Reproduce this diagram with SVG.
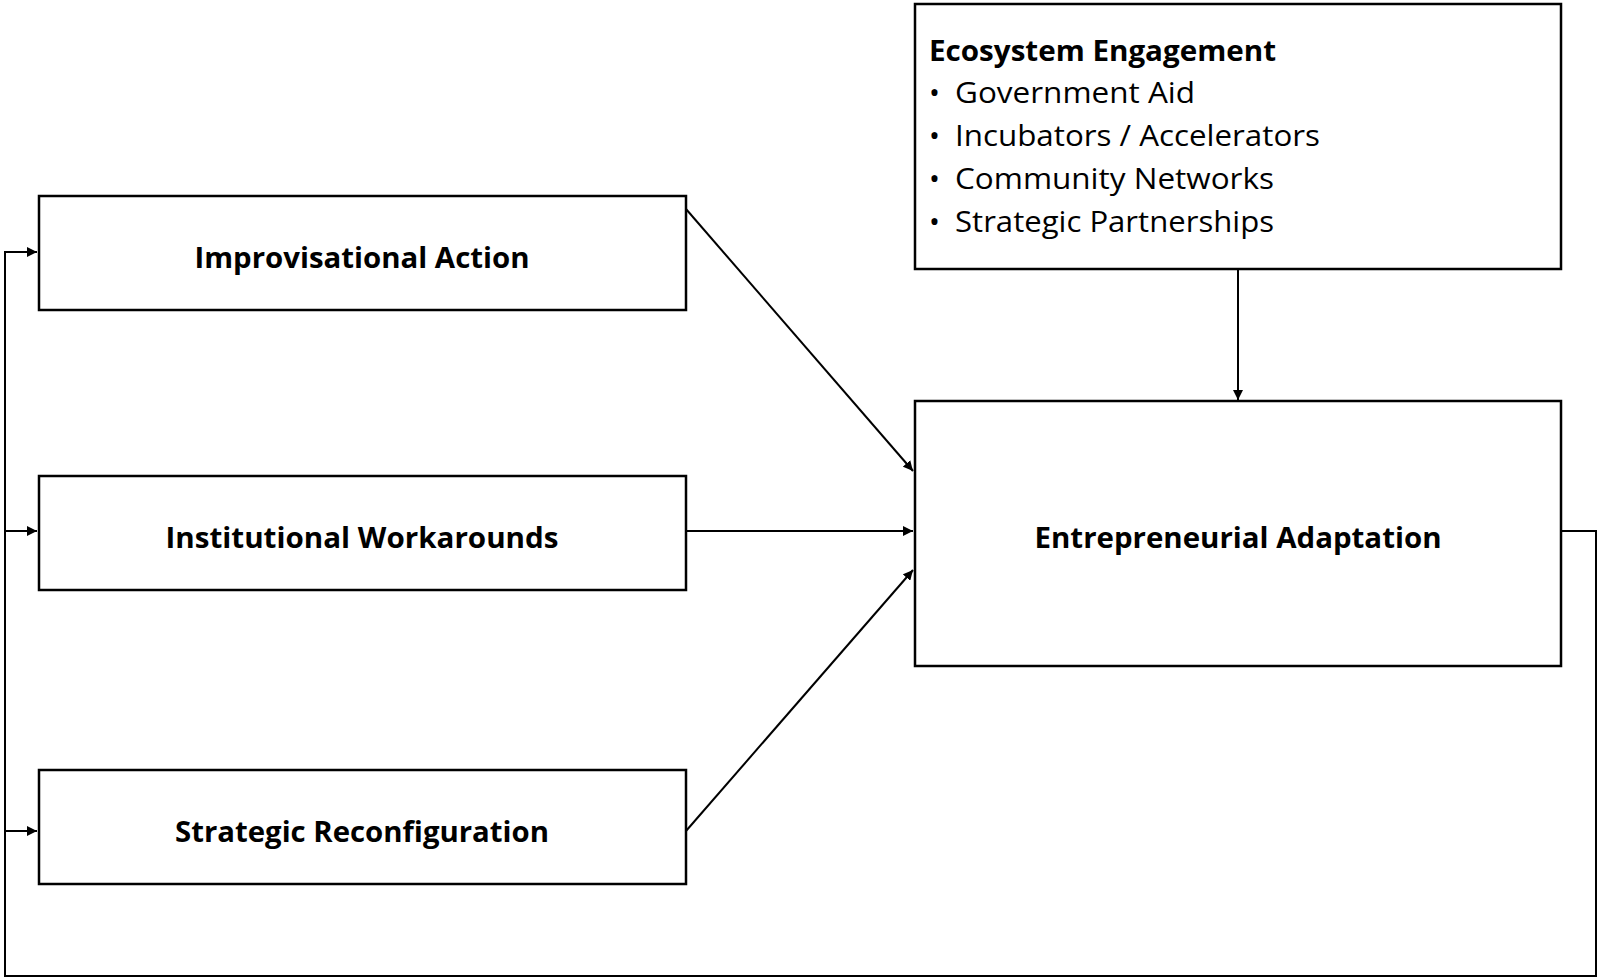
<svg xmlns="http://www.w3.org/2000/svg" width="1600" height="980" viewBox="0 0 1600 980">
<defs>
<style>
.box{fill:#fff;stroke:#000;stroke-width:2.5}
.t{font-family:"Open Sans","Liberation Sans",sans-serif;font-weight:bold;font-size:29px;text-anchor:middle}
.l{font-family:"Open Sans","Liberation Sans",sans-serif;font-size:29px}
.c{fill:none;stroke:#000;stroke-width:2}
</style>
<marker id="a" viewBox="0 0 10 10" refX="10" refY="5" markerWidth="5" markerHeight="5" orient="auto"><path d="M0,0L10,5L0,10z"/></marker>
</defs>
<rect width="1600" height="980" fill="#fff"/>
<g id="connectors">
<path class="c" d="M1561,531H1596V976H5V252H37" marker-end="url(#a)"/>
<path class="c" d="M5,531H37" marker-end="url(#a)"/>
<path class="c" d="M5,831H37" marker-end="url(#a)"/>
<path class="c" d="M686,209L913,471" marker-end="url(#a)"/>
<path class="c" d="M686,531H913" marker-end="url(#a)"/>
<path class="c" d="M686,831L913,570" marker-end="url(#a)"/>
<path class="c" d="M1238,269V400" marker-end="url(#a)"/>
</g>
<g id="improv"><rect class="box" x="39" y="196" width="647" height="114"/><text class="t" x="362" y="268" textLength="335" lengthAdjust="spacingAndGlyphs">Improvisational Action</text></g>
<g id="instit"><rect class="box" x="39" y="476" width="647" height="114"/><text class="t" x="362" y="548" textLength="393" lengthAdjust="spacingAndGlyphs">Institutional Workarounds</text></g>
<g id="strat"><rect class="box" x="39" y="770" width="647" height="114"/><text class="t" x="362" y="842" textLength="374" lengthAdjust="spacingAndGlyphs">Strategic Reconfiguration</text></g>
<g id="entre"><rect class="box" x="915" y="401" width="646" height="265"/><text class="t" x="1238" y="548" textLength="407" lengthAdjust="spacingAndGlyphs">Entrepreneurial Adaptation</text></g>
<g id="eco"><rect class="box" x="915" y="4" width="646" height="265"/>
<text class="l" x="929" y="61" font-weight="bold" textLength="347" lengthAdjust="spacingAndGlyphs">Ecosystem Engagement</text>
<text class="l" x="929" y="103">•</text><text class="l" x="955" y="103" textLength="240" lengthAdjust="spacingAndGlyphs">Government Aid</text>
<text class="l" x="929" y="146">•</text><text class="l" x="955" y="146" textLength="365" lengthAdjust="spacingAndGlyphs">Incubators / Accelerators</text>
<text class="l" x="929" y="189">•</text><text class="l" x="955" y="189" textLength="319" lengthAdjust="spacingAndGlyphs">Community Networks</text>
<text class="l" x="929" y="232">•</text><text class="l" x="955" y="232" textLength="319" lengthAdjust="spacingAndGlyphs">Strategic Partnerships</text>
</g>
</svg>
